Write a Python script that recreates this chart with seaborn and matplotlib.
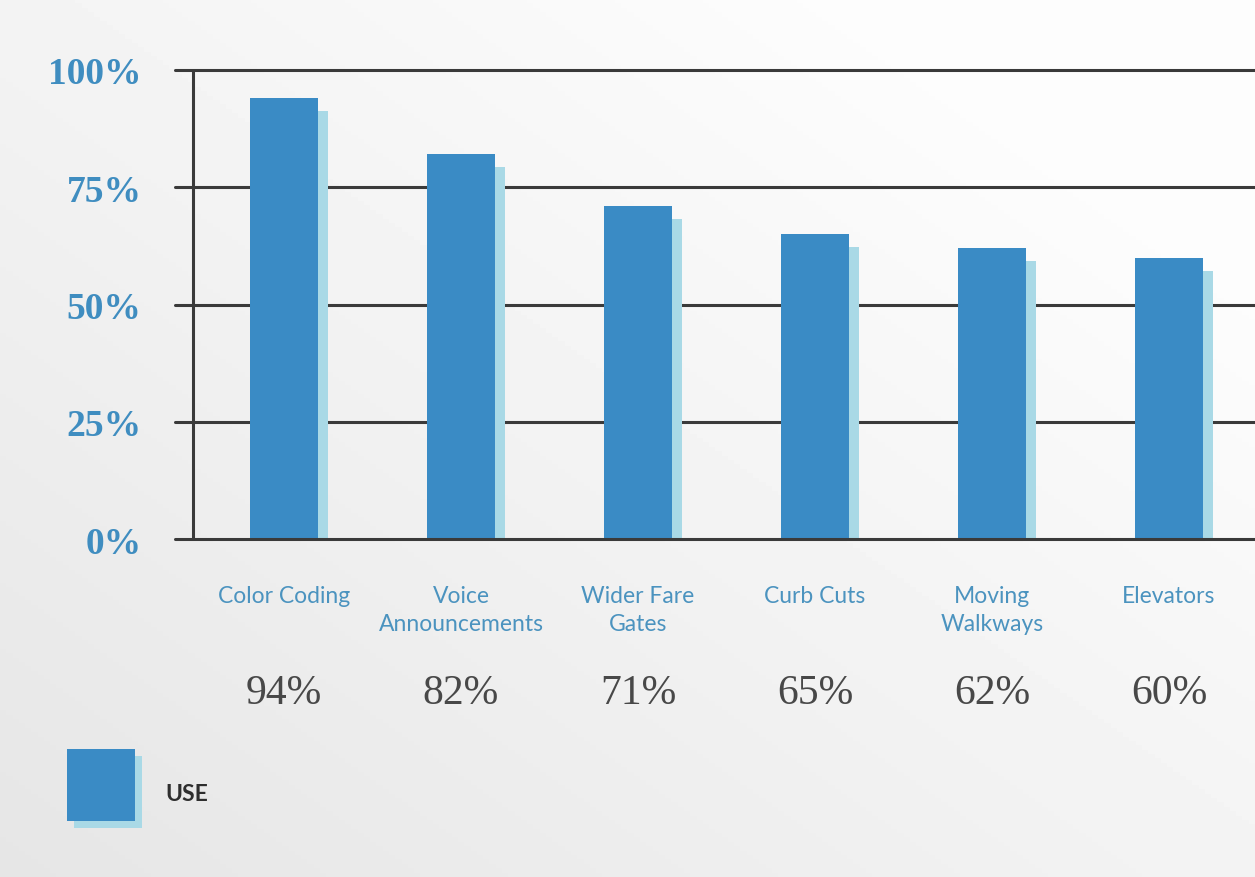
import numpy as np
import pandas as pd
import matplotlib
matplotlib.use("Agg")
import matplotlib.pyplot as plt
import matplotlib.transforms as mtransforms
from matplotlib.patches import Rectangle
import seaborn as sns

# datos
features = ["Color Coding", "Voice\nAnnouncements", "Wider Fare\nGates",
            "Curb Cuts", "Moving\nWalkways", "Elevators"]
use_pct = [94, 82, 71, 65, 62, 60]
y_ticks = [0, 25, 50, 75, 100]
y_tick_labels = ["0%", "25%", "50%", "75%", "100%"]
legend_label = "USE"

BAR = "#3a8bc5"
SHADOW = "#a9d9e6"
TICK_BLUE = "#3f8dc0"
LABEL_BLUE = "#4b93bf"
DARK = "#484848"
GRID = "#3a3a3a"

df = pd.DataFrame({"feature": features, "use": use_pct})

sns.set_theme(style="white")
plt.rcParams["font.family"] = ["Lato", "DejaVu Sans"]

fig = plt.figure(figsize=(12.55, 8.78), dpi=100)

# fondo gris degradado (papel escaneado)
bg = fig.add_axes([0, 0, 1, 1], zorder=-10)
gx, gy = np.meshgrid(np.linspace(0, 1, 200), np.linspace(0, 1, 200))
grad = 0.90 + 0.09 * np.clip(0.6 * gx + 0.6 * gy, 0, 1)
bg.imshow(grad, cmap="gray", vmin=0, vmax=1, extent=[0, 1, 0, 1],
          origin="lower", aspect="auto")
bg.axis("off")

W, H = 1255, 878
ax = fig.add_axes([175 / W, (H - 540) / H, 1 - 175 / W, (540 - 71) / H])
ax.patch.set_alpha(0)

sns.barplot(data=df, x="feature", y="use", color=BAR, width=0.385,
            saturation=1, ax=ax, zorder=3)

# sombras de las barras
offset = mtransforms.ScaledTranslation(10 / 100, -13 / 100, fig.dpi_scale_trans)
for p in list(ax.patches):
    p.set_edgecolor("none")
    sh = Rectangle((p.get_x(), 0), p.get_width(), p.get_height(),
                   facecolor=SHADOW, edgecolor="none", zorder=2,
                   transform=ax.transData + offset)
    ax.add_patch(sh)

# límites del eje
spacing = 177.0
ax.set_xlim((175 - 284) / spacing, (1255 - 284) / spacing)
ax.set_ylim(0, 100)

for yv in y_ticks:
    ax.axhline(yv, color=GRID, lw=2.2, zorder=1 if yv else 4, clip_on=False)
ax.plot([(193 - 284) / spacing] * 2, [0, 100], color=GRID, lw=2.2,
        zorder=1, clip_on=False)

for s in ax.spines.values():
    s.set_visible(False)

ax.set_yticks(y_ticks)
ax.set_yticklabels(y_tick_labels, family=["Liberation Serif", "DejaVu Serif"],
                   fontweight="bold", fontsize=27, color=TICK_BLUE)
ax.tick_params(axis="y", length=0, pad=24)
ax.tick_params(axis="x", length=0, pad=33)
for lbl in ax.get_xticklabels():
    lbl.set_fontsize(16.5)
    lbl.set_color(LABEL_BLUE)
    lbl.set_linespacing(1.4)
    lbl.set_verticalalignment("top")
ax.set_xlabel("")
ax.set_ylabel("")

# valores debajo de las categorías
trans = mtransforms.blended_transform_factory(ax.transData, ax.transAxes)
for i, v in enumerate(use_pct):
    ax.text(i, (540 - 694) / (540 - 71), f"{v}%", transform=trans,
            ha="center", va="center", fontsize=30, color=DARK,
            family=["Liberation Serif", "DejaVu Serif"])

# leyenda
fig.patches.append(Rectangle((74 / W, (H - 829) / H), 68 / W, 72 / H,
                             facecolor=SHADOW, edgecolor="none",
                             transform=fig.transFigure, figure=fig))
fig.patches.append(Rectangle((67 / W, (H - 822) / H), 68 / W, 72 / H,
                             facecolor=BAR, edgecolor="none",
                             transform=fig.transFigure, figure=fig))
fig.text(165 / W, (H - 795) / H, legend_label, fontsize=16.5, fontweight="bold",
         color="#2e2e2e", va="center", ha="left")

fig.savefig("out.png", dpi=100)
